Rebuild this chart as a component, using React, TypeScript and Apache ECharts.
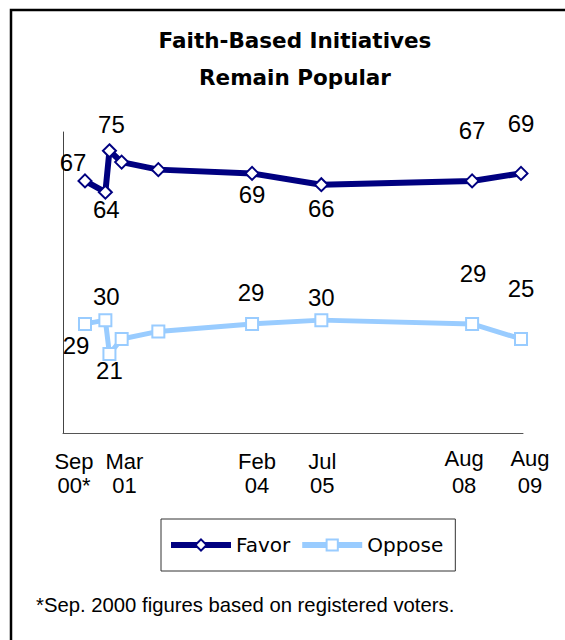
import React, { useEffect, useRef } from 'react';
import * as echarts from 'echarts';

// ---- data ----
const surveyDates = ['2000-09', '2001-02', '2001-03', '2001-06', '2002-03', '2004-02', '2005-07', '2008-08', '2009-08'];
const favorValues = [67, 64, 75, 72, 70, 69, 66, 67, 69];
const opposeValues = [29, 30, 21, 25, 27, 29, 30, 29, 25];
const tickDates = ['2000-09', '2001-03', '2004-02', '2005-07', '2008-08', '2009-08'];
const tickMonths = ['Sep', 'Mar', 'Feb', 'Jul', 'Aug', 'Aug'];
const tickYears = ['00*', '01', '04', '05', '08', '09'];
const titleText = 'Faith-Based Initiatives\nRemain Popular';
const footnoteText = '*Sep. 2000 figures based on registered voters.';

// ---- styles / placement ----
const favorLabelOffsets: (number[] | null)[] = [[-12, -18], [1, 17], [2, -26], null, null, [0, 21], [0, 24], [0, -50], [0, -50]];
const opposeLabelOffsets: (number[] | null)[] = [[-9, 22], [1, -24], [0, 17], null, null, [-1, -31], [0, -23], [1, -50], [0, -50]];
const tickLabelShift = [[-11, 6], [15, 6], [5, 6], [1, 6], [-8, 0], [9, 0]];

const toYear = (s: string) => {
  const [y, m] = s.split('-').map(Number);
  return y + (m - 1) / 12;
};

const FAVOR = '#000080';
const OPPOSE = '#99CCFF';
const LABEL_FONT = '"Liberation Sans", Arial, sans-serif';
const X_MIN = 2000.217;
const X_MAX = 2009.624;

export default function App() {
  const ref = useRef<HTMLDivElement>(null);
  useEffect(() => {
    if (!ref.current) return;
    const chart = echarts.init(ref.current, null, { renderer: 'svg' });

    const mkData = (vals: number[], offs: (number[] | null)[]) =>
      surveyDates.map((d, i) => ({
        value: [toYear(d), vals[i]],
        label: offs[i]
          ? { show: true, position: 'inside', offset: offs[i] }
          : { show: false },
      }));

    const rich: any = {};
    tickLabelShift.forEach(([dx, dy], i) => {
      const left = dx > 0 ? 2 * dx : 0;
      const right = dx < 0 ? -2 * dx : 0;
      const base = { fontSize: 22, fontFamily: '"Liberation Sans", Arial, sans-serif', color: '#000', lineHeight: 27 };
      rich['a' + i] = { ...base, padding: [dy, right, 0, left] };
      rich['b' + i] = { ...base, padding: [0, right, 0, left] };
    });
    const tickVals = tickDates.map(toYear);
    const fmt = (v: number) => {
      const i = tickVals.findIndex((t) => Math.abs(t - v) < 0.01);
      if (i < 0) return '';
      return `{a${i}|${tickMonths[i]}}\n{b${i}|${tickYears[i]}}`;
    };
    // two label axes (alternate ticks) so neighbouring labels never collide
    const mkXAxis = (parity: number, showLine: boolean) => ({
      type: 'value',
      position: 'bottom',
      offset: 0,
      min: X_MIN,
      max: X_MAX,
      axisLine: { show: showLine, lineStyle: { color: '#555', width: 1 } },
      axisTick: { show: false },
      splitLine: { show: false },
      axisLabel: {
        customValues: tickVals.filter((_, i) => i % 2 === parity),
        margin: 12,
        showMinLabel: true,
        showMaxLabel: true,
        formatter: fmt,
        rich,
      },
    });

    const labelCommon = {
      color: '#000',
      fontSize: 24,
      fontFamily: LABEL_FONT,
      formatter: (p: any) => String(p.value[1]),
    };

    chart.setOption({
      animation: false,
      backgroundColor: '#fff',
      graphic: [
        {
          type: 'rect',
          shape: { x: 11, y: 10, width: 700, height: 800 },
          style: { fill: 'none', stroke: '#000', lineWidth: 2.5 },
          silent: true,
        },
        {
          type: 'text',
          x: 295,
          y: 22,
          style: {
            text: titleText,
            textAlign: 'center',
            textVerticalAlign: 'top',
            font: 'bold 21.5px "DejaVu Sans", sans-serif',
            lineHeight: 37,
            fill: '#000',
          },
        },
        {
          type: 'text',
          x: 36,
          y: 595,
          style: {
            text: footnoteText,
            font: '20.3px "Liberation Sans", Arial, sans-serif',
            fill: '#000',
          },
        },
      ],
      grid: { left: 63, right: 42, top: 132, bottom: 207 },
      xAxis: [mkXAxis(0, true), mkXAxis(1, false)],
      yAxis: {
        type: 'value',
        min: 0,
        max: 80,
        axisLine: { show: true, lineStyle: { color: '#444', width: 1 } },
        axisTick: { show: false },
        axisLabel: { show: false },
        splitLine: { show: false },
      },
      legend: {
        left: 161,
        top: 519,
        orient: 'horizontal',
        padding: [14, 12, 14, 7],
        itemGap: 9,
        itemWidth: 60,
        itemHeight: 14,
        borderColor: '#333',
        borderWidth: 1,
        backgroundColor: '#fff',
        textStyle: { fontSize: 20, fontFamily: '"DejaVu Sans", sans-serif', color: '#000', lineHeight: 24 },
        data: [
          { name: 'Favor', lineStyle: { width: 6, color: FAVOR } },
          { name: 'Oppose', lineStyle: { width: 6, color: OPPOSE } },
        ],
      },
      series: [
        {
          name: 'Favor',
          type: 'line',
          xAxisIndex: 0,
          data: mkData(favorValues, favorLabelOffsets),
          symbol: 'diamond',
          symbolSize: 13,
          showAllSymbol: true,
          lineStyle: { color: FAVOR, width: 6 },
          itemStyle: { color: '#fff', borderColor: FAVOR, borderWidth: 2 },
          label: labelCommon,
          z: 3,
        },
        {
          name: 'Oppose',
          type: 'line',
          xAxisIndex: 0,
          data: mkData(opposeValues, opposeLabelOffsets),
          symbol: 'rect',
          symbolSize: 12,
          showAllSymbol: true,
          lineStyle: { color: OPPOSE, width: 5 },
          itemStyle: { color: '#fff', borderColor: OPPOSE, borderWidth: 2 },
          label: labelCommon,
          z: 2,
        },
      ],
    });
    return () => chart.dispose();
  }, []);
  return <div ref={ref} style={{ position: 'absolute', left: 0, top: 0, width: 565, height: 640 }} />;
}
